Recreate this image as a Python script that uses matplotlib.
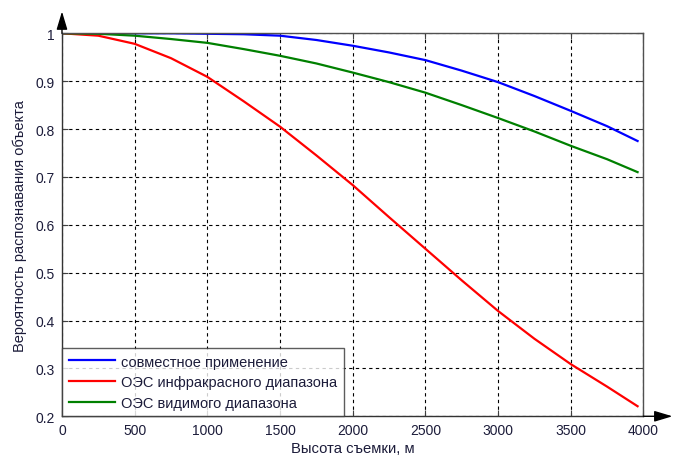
import numpy as np
import matplotlib
matplotlib.use('Agg')
import matplotlib.pyplot as plt

plt.rcParams['font.family'] = ['Liberation Sans', 'DejaVu Sans']

# data
heights = [0, 250, 500, 750, 1000, 1250, 1500, 1750, 2000, 2250, 2500,
           2750, 3000, 3250, 3500, 3750, 3960]
p_joint = [1.0, 1.0, 1.0, 1.0, 0.999, 0.998, 0.995, 0.986, 0.974, 0.960,
           0.944, 0.922, 0.898, 0.869, 0.838, 0.806, 0.775]
p_ir = [1.0, 0.995, 0.978, 0.948, 0.909, 0.858, 0.805, 0.745, 0.683, 0.616,
        0.550, 0.484, 0.420, 0.362, 0.309, 0.262, 0.221]
p_vis = [1.0, 0.999, 0.995, 0.988, 0.980, 0.967, 0.953, 0.937, 0.918, 0.898,
         0.876, 0.850, 0.823, 0.795, 0.765, 0.737, 0.710]

x_ticks = [0, 500, 1000, 1500, 2000, 2500, 3000, 3500, 4000]
y_ticks = [0.2, 0.3, 0.4, 0.5, 0.6, 0.7, 0.8, 0.9, 1.0]
y_tick_labels = ['0.2', '0.3', '0.4', '0.5', '0.6', '0.7', '0.8', '0.9', '1']

labels = ['совместное применение',
          'ОЭС инфракрасного диапазона',
          'ОЭС видимого диапазона']

text_color = '#1c1c3a'

fig = plt.figure(figsize=(6.73, 4.56), dpi=100, facecolor='white')
ax = fig.add_axes([0.0921, 0.0849, 0.8639, 0.8399])

ax.plot(heights, p_joint, color='#0000ff', lw=1.6, label=labels[0])
ax.plot(heights, p_ir, color='#ff0000', lw=1.6, label=labels[1])
ax.plot(heights, p_vis, color='#008000', lw=1.6, label=labels[2])

ax.set_xlim(0, 4000)
ax.set_ylim(0.2, 1.0)
ax.set_xticks(x_ticks)
ax.set_yticks(y_ticks)
ax.set_yticklabels(y_tick_labels)

ax.grid(True, color='black', linestyle=(0, (3, 3)), linewidth=0.8)
ax.set_axisbelow(True)
ax.tick_params(axis='both', direction='in', length=4, labelsize=10,
               labelcolor=text_color, color='#404040', top=True, right=True, pad=5)

for side in ['top', 'right']:
    ax.spines[side].set_color('#505050')
    ax.spines[side].set_linewidth(1.0)
for side in ['left', 'bottom']:
    ax.spines[side].set_color('#333333')
    ax.spines[side].set_linewidth(1.0)

ax.set_xlabel('Высота съемки, м', fontsize=10.7, color=text_color, labelpad=2.5)
ax.set_ylabel('Вероятность распознавания объекта', fontsize=10.5, color=text_color, labelpad=6)

leg = ax.legend(loc='lower left', borderaxespad=0, fontsize=10.5, frameon=True,
                fancybox=False, handlelength=3.2, handletextpad=0.4,
                labelspacing=0.45, borderpad=0.45)
leg.get_frame().set_edgecolor('#333333')
leg.get_frame().set_linewidth(1.0)
for t in leg.get_texts():
    t.set_color(text_color)

# arrows at the ends of the axes
arrow_style = dict(arrowstyle='-|>,head_length=1.1,head_width=0.33', color='black',
                   lw=1.0, mutation_scale=10, shrinkA=0, shrinkB=0)
ax.annotate('', xy=(0, 1.057), xytext=(0, 1.0), xycoords='axes fraction',
            arrowprops=arrow_style, annotation_clip=False)
ax.annotate('', xy=(1.05, 0), xytext=(1.0, 0), xycoords='axes fraction',
            arrowprops=arrow_style, annotation_clip=False)

fig.savefig('out.png', dpi=100)
